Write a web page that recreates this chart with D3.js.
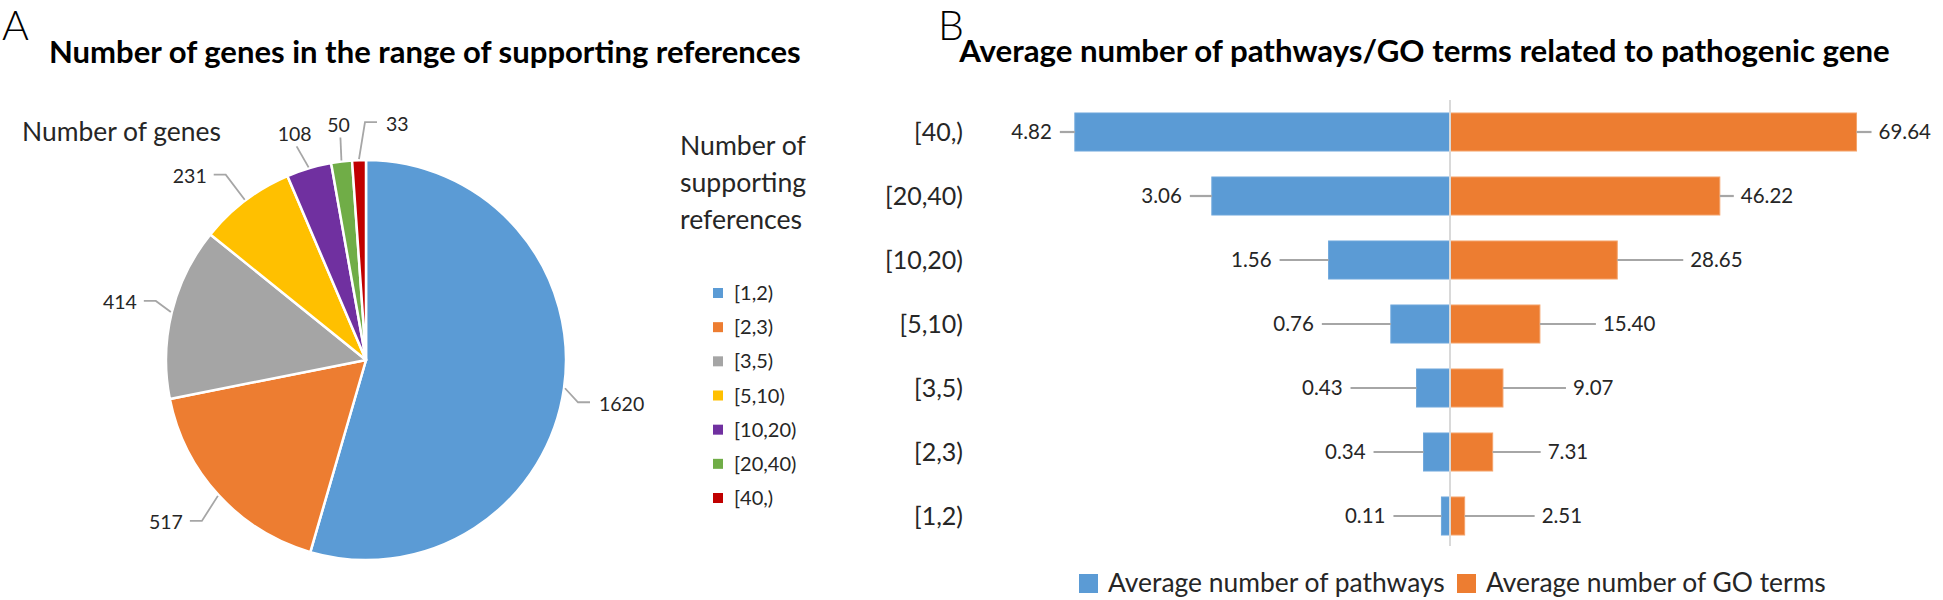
<!DOCTYPE html>
<html>
<head>
<meta charset="utf-8">
<script src="https://cdn.jsdelivr.net/npm/d3@7"></script>
<style>
  html, body { margin: 0; padding: 0; background: #fff; }
  svg { display: block; font-family: Lato, "Open Sans", "DejaVu Sans", sans-serif; }
</style>
</head>
<body>
<svg id="chart" width="1943" height="600"></svg>
<script>
// ---------------- data ----------------
const categories = ["[1,2)", "[2,3)", "[3,5)", "[5,10)", "[10,20)", "[20,40)", "[40,)"];
const geneCounts = [1620, 517, 414, 231, 108, 50, 33];
const pathwayAvg = [0.11, 0.34, 0.43, 0.76, 1.56, 3.06, 4.82];
const goTermAvg  = [2.51, 7.31, 9.07, 15.40, 28.65, 46.22, 69.64];
const seriesNames = ["Average number of pathways", "Average number of GO terms"];
const axisMaxPathways = 6;
const axisMaxGo = 80;
const titleA = "Number of genes in the range of supporting references";
const titleB = "Average number of pathways/GO terms related to pathogenic gene";
const pieValueLabel = "Number of genes";
const pieLegendTitle = ["Number of", "supporting", "references"];

// ---------------- styles / layout ----------------
const pieColors = ["#5B9BD5", "#ED7D31", "#A5A5A5", "#FFC000", "#7030A0", "#70AD47", "#C00000"];
const blue = "#5B9BD5", orange = "#ED7D31";
const leaderColor = "#A6A6A6";
const textColor = "#262626";
// leader line lengths (px) beside the bars, in category order
const leaderLeft  = [48, 50, 66, 69, 49, 22, 15];
const leaderRight = [70, 48, 63, 56, 66, 14, 15];
// pie label leader geometry: elbow offset from arc point, tail length (sign = side)
const pieLabelLayout = [
  {elbow: [13, 14],  tail: 12},
  {elbow: [-16, 25], tail: -12},
  {elbow: [-15, -11], tail: -12},
  {elbow: [-19, -25], tail: -12},
  {elbow: [-12, -21], tail: 0},
  {elbow: [-1, -23],  tail: 0},
  {elbow: [6, -37],   tail: 12}
];

const svg = d3.select("#chart");

function fitWidth(sel, target) {
  const n = sel.node();
  const cur = n.getComputedTextLength();
  const fs = parseFloat(sel.attr("font-size"));
  sel.attr("font-size", fs * target / cur);
}

// ---------------- Panel A ----------------
svg.append("text").attr("x", 2).attr("y", 40).attr("font-size", 41).attr("font-weight", 300)
  .attr("fill", "#000").text("A");

const tA = svg.append("text").attr("x", 49).attr("y", 63).attr("font-size", 28)
  .attr("font-weight", 700).attr("fill", "#000").text(titleA);
fitWidth(tA, 752);

const nog = svg.append("text").attr("x", 22).attr("y", 141).attr("font-size", 24)
  .attr("fill", textColor).text(pieValueLabel);
fitWidth(nog, 199);

const cx = 366, cy = 360, R = 200;
const pie = d3.pie().sort(null).value(d => d)(geneCounts);
const arc = d3.arc().innerRadius(0).outerRadius(R);
const gPie = svg.append("g").attr("transform", `translate(${cx},${cy})`);
gPie.selectAll("path").data(pie).join("path")
  .attr("d", arc)
  .attr("fill", (d, i) => pieColors[i])
  .attr("stroke", "#fff").attr("stroke-width", 2.5).attr("stroke-linejoin", "round");

// pie labels with leader lines
pie.forEach((d, i) => {
  const a = (d.startAngle + d.endAngle) / 2;
  const p0 = [Math.sin(a) * (R + 1), -Math.cos(a) * (R + 1)];
  const L = pieLabelLayout[i];
  const p1 = [p0[0] + L.elbow[0], p0[1] + L.elbow[1]];
  const p2 = [p1[0] + L.tail, p1[1]];
  gPie.append("polyline")
    .attr("points", [p0, p1, p2].map(p => p.join(",")).join(" "))
    .attr("fill", "none").attr("stroke", leaderColor).attr("stroke-width", 1.8);
  const t = gPie.append("text").attr("font-size", 19.5).attr("fill", textColor)
    .attr("dominant-baseline", "central").text(d.data);
  if (L.tail > 0) t.attr("x", p2[0] + 9).attr("y", p2[1] + 1).attr("text-anchor", "start");
  else if (L.tail < 0) t.attr("x", p2[0] - 7).attr("y", p2[1] + 1).attr("text-anchor", "end");
  else t.attr("x", p1[0] - 2).attr("y", p1[1] - 13).attr("text-anchor", "middle");
});

// pie legend
const lt = svg.append("g").attr("fill", textColor);
pieLegendTitle.forEach((s, i) => {
  const t = lt.append("text").attr("x", 680).attr("y", 155 + i * 37).attr("font-size", 24).text(s);
  if (i === 0) fitWidth(t, 126);
});
const legFs = lt.select("text").attr("font-size");
lt.selectAll("text").attr("font-size", legFs);

const legY = d3.scalePoint().domain(categories).range([293, 498]);
const lg = svg.append("g");
categories.forEach((c, i) => {
  lg.append("rect").attr("x", 713).attr("y", legY(c) - 5).attr("width", 10).attr("height", 10)
    .attr("fill", pieColors[i]);
  lg.append("text").attr("x", 734).attr("y", legY(c)).attr("dy", "0.35em")
    .attr("font-size", 20).attr("fill", textColor).text(c);
});

// ---------------- Panel B ----------------
svg.append("text").attr("x", 938).attr("y", 40).attr("font-size", 41).attr("font-weight", 300)
  .attr("fill", "#000").text("B");

const tB = svg.append("text").attr("y", 62).attr("font-size", 28)
  .attr("font-weight", 700).attr("fill", "#000").text(titleB);
{
  const n = tB.node();
  const k = titleB.indexOf("pathways");
  const tail = n.getSubStringLength(k, titleB.length - k);
  const fs = 28 * 660 / tail;
  tB.attr("font-size", fs);
  const pre = n.getSubStringLength(0, k);
  tB.attr("x", 1230 - pre);
}

const center = 1450, half = 467;
const xLeft = d3.scaleLinear().domain([0, axisMaxPathways]).range([center, center - half]);
const xRight = d3.scaleLinear().domain([0, axisMaxGo]).range([center, center + half]);
const y = d3.scaleBand().domain(categories.slice().reverse()).range([100, 548])
  .paddingInner(0.406).paddingOuter(0.203);

const gB = svg.append("g");
// category axis labels
categories.forEach(c => {
  gB.append("text").attr("x", 963).attr("y", y(c) + y.bandwidth() / 2).attr("dy", "0.35em")
    .attr("text-anchor", "end").attr("font-size", 25).attr("fill", textColor).text(c);
});

// bars
gB.selectAll("rect.pw").data(categories).join("rect").attr("class", "pw")
  .attr("x", (c, i) => xLeft(pathwayAvg[i]))
  .attr("y", c => y(c))
  .attr("width", (c, i) => center - xLeft(pathwayAvg[i]))
  .attr("height", y.bandwidth())
  .attr("fill", blue).attr("stroke", "#6FA8DC").attr("stroke-width", 1);
gB.selectAll("rect.go").data(categories).join("rect").attr("class", "go")
  .attr("x", center)
  .attr("y", c => y(c))
  .attr("width", (c, i) => xRight(goTermAvg[i]) - center)
  .attr("height", y.bandwidth())
  .attr("fill", orange).attr("stroke", "#F4A36B").attr("stroke-width", 1);

// center axis line
gB.append("line").attr("x1", center).attr("x2", center).attr("y1", 100).attr("y2", 546)
  .attr("stroke", "#D9D9D9").attr("stroke-width", 2);

// value labels with leaders
categories.forEach((c, i) => {
  const yc = y(c) + y.bandwidth() / 2;
  const xl = xLeft(pathwayAvg[i]);
  gB.append("line").attr("x1", xl).attr("x2", xl - leaderLeft[i]).attr("y1", yc).attr("y2", yc)
    .attr("stroke", leaderColor).attr("stroke-width", 2.2);
  gB.append("text").attr("x", xl - leaderLeft[i] - 8).attr("y", yc).attr("dy", "0.35em")
    .attr("text-anchor", "end").attr("font-size", 20.5).attr("fill", textColor)
    .text(d3.format(".2f")(pathwayAvg[i]));
  const xr = xRight(goTermAvg[i]);
  gB.append("line").attr("x1", xr).attr("x2", xr + leaderRight[i]).attr("y1", yc).attr("y2", yc)
    .attr("stroke", leaderColor).attr("stroke-width", 2.2);
  gB.append("text").attr("x", xr + leaderRight[i] + 7).attr("y", yc).attr("dy", "0.35em")
    .attr("text-anchor", "start").attr("font-size", 20.5).attr("fill", textColor)
    .text(d3.format(".2f")(goTermAvg[i]));
});

// bottom legend
const legendX = [1079, 1457];
const legendTextW = [337, 340];
[blue, orange].forEach((col, i) => {
  svg.append("rect").attr("x", legendX[i]).attr("y", 574).attr("width", 19).attr("height", 19).attr("fill", col);
  const t = svg.append("text").attr("x", legendX[i] + 29).attr("y", 592).attr("font-size", 24)
    .attr("fill", textColor).text(seriesNames[i]);
  fitWidth(t, legendTextW[i]);
});
</script>
</body>
</html>
